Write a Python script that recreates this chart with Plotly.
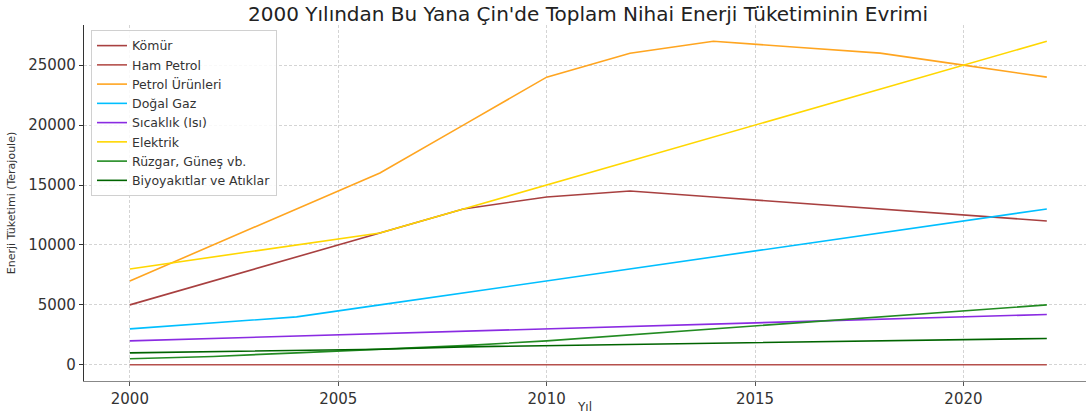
import plotly.graph_objects as go

years = [2000, 2002, 2004, 2006, 2008, 2010, 2012, 2014, 2016, 2018, 2020, 2022]

komur = [5000, 7000, 9000, 11000, 13000, 14000, 14500, 14000, 13500, 13000, 12500, 12000]
ham_petrol = [0, 0, 0, 0, 0, 0, 0, 0, 0, 0, 0, 0]
petrol_urunleri = [7000, 10000, 13000, 16000, 20000, 24000, 26000, 27000, 26500, 26000, 25000, 24000]
dogal_gaz = [3000, 3500, 4000, 5000, 6000, 7000, 8000, 9000, 10000, 11000, 12000, 13000]
sicaklik = [2000, 2200, 2400, 2600, 2800, 3000, 3200, 3400, 3600, 3800, 4000, 4200]
elektrik = [8000, 9000, 10000, 11000, 13000, 15000, 17000, 19000, 21000, 23000, 25000, 27000]
ruzgar_gunes = [500, 700, 1000, 1300, 1600, 2000, 2500, 3000, 3500, 4000, 4500, 5000]
biyoyakit = [1000, 1100, 1200, 1300, 1500, 1600, 1700, 1800, 1900, 2000, 2100, 2200]

series = [
    ("Kömür", komur, "#a84040"),
    ("Ham Petrol", ham_petrol, "#b5504c"),
    ("Petrol Ürünleri", petrol_urunleri, "#FFA520"),
    ("Doğal Gaz", dogal_gaz, "#00BFFF"),
    ("Sıcaklık (Isı)", sicaklik, "#8A2BE2"),
    ("Elektrik", elektrik, "#FFD700"),
    ("Rüzgar, Güneş vb.", ruzgar_gunes, "#228B22"),
    ("Biyoyakıtlar ve Atıklar", biyoyakit, "#006400"),
]

x_ticks = [2000, 2005, 2010, 2015, 2020]
y_ticks = [0, 5000, 10000, 15000, 20000, 25000]

FONT = "DejaVu Sans"

fig = go.Figure()
for name, vals, col in series:
    fig.add_trace(go.Scatter(x=years, y=vals, mode="lines", name=name,
                             line=dict(color=col, width=1.6)))

fig.update_layout(
    width=1086, height=414,
    margin=dict(l=84, r=0, t=25, b=33),
    paper_bgcolor="white", plot_bgcolor="white",
    font=dict(family=FONT, color="#333333"),
    title=dict(text="2000 Yılından Bu Yana Çin'de Toplam Nihai Enerji Tüketiminin Evrimi",
               x=0.5415, xanchor="center", y=0.966, yanchor="middle",
               font=dict(family=FONT, size=20, color="#222222")),
    legend=dict(x=0.007, y=0.986, xanchor="left", yanchor="top",
                bgcolor="rgba(255,255,255,0.85)", bordercolor="#d0d0d0", borderwidth=1,
                font=dict(family=FONT, size=12.5, color="#333333"),
                itemwidth=30, tracegroupgap=0),
    showlegend=True,
)

fig.update_xaxes(
    range=[1998.9, 2022.94], tickvals=x_ticks, ticktext=[str(v) for v in x_ticks],
    showgrid=True, gridcolor="#d4d4d4", griddash="3px,2px", gridwidth=1,
    showline=True, linecolor="#888888", linewidth=1.2, mirror=False,
    ticks="outside", ticklen=4, tickcolor="#555555",
    tickfont=dict(family=FONT, size=15, color="#333333"),
    title=dict(text="Yıl", font=dict(family=FONT, size=12, color="#333333"), standoff=0),
    zeroline=False, automargin=False,
)
fig.update_yaxes(
    range=[-1350, 28350], tickvals=y_ticks, ticktext=[str(v) for v in y_ticks],
    showgrid=True, gridcolor="#d4d4d4", griddash="3px,2px", gridwidth=1,
    showline=True, linecolor="#333333", linewidth=1.2, mirror=False,
    ticks="outside", ticklen=4, tickcolor="#333333",
    tickfont=dict(family=FONT, size=15, color="#333333"),
    title=dict(text="Enerji Tüketimi (Terajoule)", font=dict(family=FONT, size=11, color="#333333"), standoff=10),
    zeroline=False, automargin=False,
)

# remove the default 8px body margin of the page so the figure fills the window
fig.write_html("out.html", config={"displayModeBar": False},
               post_script="document.body.style.margin='0';")
